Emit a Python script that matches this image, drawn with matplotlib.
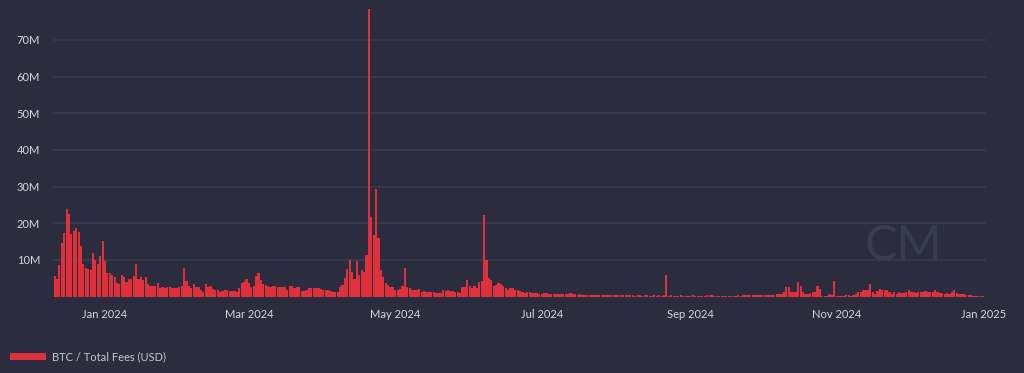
import matplotlib
matplotlib.use("Agg")
import matplotlib.pyplot as plt
from matplotlib.patches import Rectangle
from matplotlib.ticker import FuncFormatter
import pandas as pd
import numpy as np

# daily BTC total fees, millions of USD
fees_dec23 = [5.7, 4.8, 8.6, 14.5, 17.4, 23.9, 22.5, 17.0, 17.9, 18.6, 17.7, 13.9, 8.9, 7.7,
              7.4, 7.2, 11.9, 10.0, 8.9, 11.0, 15.1]
fees_jan24 = [9.6, 6.3, 6.3, 5.8, 5.3, 3.8, 3.4, 6.0, 5.2, 3.9, 4.7, 4.7, 5.7, 9.0, 4.8, 5.3,
              4.6, 5.2, 3.5, 3.0, 3.0, 3.0, 3.6, 2.4, 2.6, 2.4, 2.5, 2.5, 2.4, 2.4, 2.2]
fees_feb24 = [2.5, 2.9, 7.7, 4.2, 2.9, 2.4, 3.3, 2.5, 2.7, 1.9, 1.3, 3.4, 2.5, 2.9, 2.0, 1.8,
              1.8, 1.3, 1.5, 1.8, 1.8, 1.6, 1.6, 1.5, 1.3, 2.2, 3.6, 4.0, 4.7]
fees_mar24 = [3.6, 2.7, 3.0, 5.7, 6.5, 4.5, 3.4, 3.1, 2.9, 2.5, 3.0, 2.9, 2.7, 2.5, 2.7, 2.5,
              1.8, 3.0, 3.0, 2.3, 2.7, 2.5, 1.5, 1.5, 1.9, 2.2, 2.4, 2.2, 2.2, 2.2, 2.1]
fees_apr24 = [1.9, 1.9, 1.8, 1.6, 1.3, 1.2, 1.2, 2.5, 3.2, 5.0, 7.5, 10.0, 6.8, 4.8, 9.8, 5.9,
              7.2, 6.6, 11.2, 78.3, 21.7, 16.9, 29.4, 16.0, 7.1, 5.4, 3.6, 3.1, 2.7, 2.5]
fees_may24 = [1.9, 1.9, 2.0, 2.8, 7.8, 2.5, 2.2, 1.7, 1.7, 1.8, 2.0, 1.3, 1.6, 1.2, 1.3, 1.3,
              1.3, 1.0, 0.9, 1.0, 1.8, 1.4, 1.9, 1.6, 1.4, 1.3, 1.3, 1.0, 2.5, 2.5, 4.5]
fees_jun24 = [2.9, 2.3, 2.9, 2.3, 4.0, 4.3, 22.2, 10.0, 5.0, 4.6, 2.9, 3.2, 3.7, 3.4, 2.8, 2.2,
              1.9, 2.2, 2.2, 1.9, 1.7, 1.4, 1.1, 0.9, 1.1, 1.2, 1.0, 1.0, 0.9, 0.8]
fees_jul24 = [0.7, 0.9, 0.9, 0.8, 0.7, 0.7, 0.7, 0.6, 0.6, 0.6, 0.6, 0.6, 1.0, 0.6, 0.55, 0.5,
              0.55, 0.5, 0.5, 0.45, 0.5, 0.45, 0.4, 0.45, 0.4, 0.4, 0.45, 0.4, 0.35, 0.4, 0.35]
fees_aug24 = [0.35, 0.4, 0.35, 0.3, 0.35, 0.3, 0.3, 0.3, 0.25, 0.3, 0.3, 0.25, 0.3, 0.3, 0.25,
              0.25, 0.3, 0.25, 0.3, 0.25, 0.3, 6.0, 0.25, 0.3, 0.25, 0.2, 0.25, 0.3, 0.25, 0.2, 0.25]
fees_sep24 = [0.2, 0.3, 0.25, 0.2, 0.25, 0.2, 0.25, 0.3, 0.35, 0.3, 0.25, 0.2, 0.25, 0.2, 0.25,
              0.2, 0.2, 0.25, 0.2, 0.25, 0.3, 0.25, 0.3, 0.3, 0.35, 0.4, 0.45, 0.4, 0.35, 0.3]
fees_oct24 = [0.3, 0.35, 0.4, 0.4, 0.4, 0.4, 0.6, 0.6, 0.7, 1.1, 2.5, 2.5, 1.1, 1.3, 1.3, 3.9,
              3.0, 1.3, 0.6, 0.6, 0.9, 1.3, 1.1, 3.0, 2.1, 0.2, 0.2, 0.2, 0.6, 0.4, 4.3]
fees_nov24 = [0.2, 0.2, 0.2, 0.2, 0.4, 0.4, 0.2, 0.5, 0.8, 1.1, 1.3, 1.7, 1.7, 1.8, 3.4, 1.1,
              0.7, 1.5, 2.1, 1.7, 1.8, 1.7, 1.1, 0.8, 1.1, 0.7, 1.3, 1.0, 1.0, 1.1]
fees_dec24 = [1.7, 1.3, 1.1, 1.0, 1.1, 1.3, 1.3, 1.4, 1.1, 1.1, 1.3, 1.7, 1.3, 1.0, 1.0, 0.8,
              1.0, 0.8, 1.1, 1.9, 1.0, 0.6, 0.8, 0.6, 0.4, 0.4, 0.4, 0.2, 0.2, 0.2, 0.15]
fees_jan25 = [0.1]

tick_labels = ["Jan 2024", "Mar 2024", "May 2024", "Jul 2024", "Sep 2024", "Nov 2024", "Jan 2025"]
y_ticks = [10, 20, 30, 40, 50, 60, 70]
series_name = "BTC / Total Fees (USD)"

fees = (fees_dec23 + fees_jan24 + fees_feb24 + fees_mar24 + fees_apr24 + fees_may24 +
        fees_jun24 + fees_jul24 + fees_aug24 + fees_sep24 + fees_oct24 + fees_nov24 +
        fees_dec24 + fees_jan25)
days = pd.date_range("2023-12-11", periods=len(fees), freq="D")
values = np.array(fees) * 1e6

bg = "#2b2d3e"
grid_col = "#393c4f"
red = "#de313c"
txt = "#d6d7df"

plt.rcParams["font.family"] = ["Lato", "DejaVu Sans"]

fig = plt.figure(figsize=(10.24, 3.73), dpi=100, facecolor=bg)
ax = fig.add_axes([52.7 / 1024, 76.5 / 373, 933 / 1024, 291.5 / 373])
ax.set_facecolor(bg)

ax.bar(days, values, width=0.9, color=red, linewidth=0, zorder=3)

ax.set_ylim(0, 79.5e6)
ax.set_xlim(pd.Timestamp("2023-12-10 05:00"), pd.Timestamp("2025-01-02 02:00"))
ax.set_yticks([v * 1e6 for v in y_ticks])
ax.yaxis.set_major_formatter(FuncFormatter(lambda v, p: f"{int(round(v / 1e6))}M"))
ax.set_xticks(pd.to_datetime(["2024-01-01", "2024-03-01", "2024-05-01", "2024-07-01",
                              "2024-09-01", "2024-11-01", "2025-01-01"]))
ax.set_xticklabels(tick_labels)

ax.grid(axis="y", color=grid_col, linewidth=1.1, zorder=0)
ax.grid(axis="x", visible=False)
for s in ax.spines.values():
    s.set_visible(False)
ax.tick_params(axis="both", length=0, colors=txt, labelsize=8)
ax.tick_params(axis="y", pad=9)
ax.tick_params(axis="x", pad=9)

# watermark
fig.text(904 / 1024, (373 - 246) / 373, "CM", color="#383b52", fontsize=35,
         fontweight="normal", ha="center", va="center", zorder=1)

# legend at bottom left
fig.add_artist(Rectangle((10 / 1024, (373 - 360) / 373), 36 / 1024, 7 / 373,
                         transform=fig.transFigure, facecolor=red, edgecolor="none"))
fig.text(52 / 1024, (373 - 357) / 373, series_name, color="#c6c7d2", fontsize=8,
         ha="left", va="center")

fig.savefig("out.png", dpi=100, facecolor=bg)
